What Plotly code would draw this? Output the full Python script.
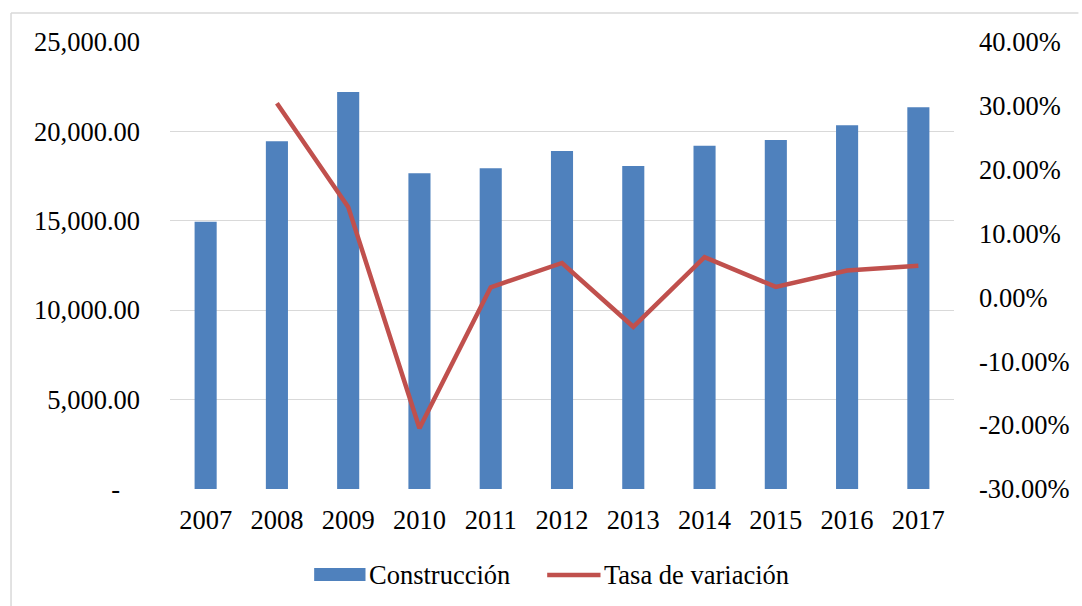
import plotly.graph_objects as go

years = ["2007", "2008", "2009", "2010", "2011", "2012", "2013", "2014", "2015", "2016", "2017"]
construccion = [14950, 19446, 22204, 17656, 17935, 18904, 18065, 19202, 19519, 20340, 21347]
tasa_years = ["2008", "2009", "2010", "2011", "2012", "2013", "2014", "2015", "2016", "2017"]
tasa = [0.3040, 0.1418, -0.2048, 0.0158, 0.0540, -0.0460, 0.0629, 0.0165, 0.0421, 0.0495]

left_ticks = [0, 5000, 10000, 15000, 20000, 25000]
left_text = ["-\u00a0\u00a0\u00a0", "5,000.00", "10,000.00", "15,000.00", "20,000.00", "25,000.00"]
right_ticks = [-0.3, -0.2, -0.1, 0.0, 0.1, 0.2, 0.3, 0.4]
right_text = ["-30.00%", "-20.00%", "-10.00%", "0.00%", "10.00%", "20.00%", "30.00%", "40.00%"]

BLUE = "#4f81bd"
RED = "#c0504d"
GRID = "#d9d9d9"
FONT = "Liberation Serif"
FS = 26.5
LFS = 26.5

W, H = 1082, 606
L, R, T, B = 170, 964, 42, 489


def px(x):
    return (x - L) / (R - L)


def py(y):
    return (B - y) / (B - T)


fig = go.Figure()
fig.add_trace(go.Bar(x=years, y=construccion, name="Construcción", marker_color=BLUE,
                     marker_line_width=0, yaxis="y"))
fig.add_trace(go.Scatter(x=tasa_years, y=tasa, name="Tasa de variación", mode="lines",
                         line=dict(color=RED, width=4.5), yaxis="y2"))

shapes = [
    # outer chart border (cropped at right and bottom)
    dict(type="line", xref="paper", yref="paper", x0=px(9), x1=px(1090), y0=py(13), y1=py(13),
         line=dict(color=GRID, width=1.5)),
    dict(type="line", xref="paper", yref="paper", x0=px(9), x1=px(9), y0=py(13), y1=py(620),
         line=dict(color=GRID, width=1.5)),
    # legend symbols
    dict(type="rect", xref="paper", yref="paper", x0=px(316), x1=px(368), y0=py(581), y1=py(568),
         fillcolor=BLUE, line=dict(width=0)),
    dict(type="line", xref="paper", yref="paper", x0=px(552), x1=px(606), y0=py(575), y1=py(575),
         line=dict(color=RED, width=4.5)),
]
annotations = [
    dict(xref="paper", yref="paper", x=px(370), y=py(575), text="Construcción", showarrow=False,
         xanchor="left", yanchor="middle", font=dict(family=FONT, size=LFS, color="#000")),
    dict(xref="paper", yref="paper", x=px(608), y=py(575), text="Tasa de variación", showarrow=False,
         xanchor="left", yanchor="middle", font=dict(family=FONT, size=LFS, color="#000")),
]

fig.update_layout(
    width=W, height=H,
    margin=dict(l=L, r=W - R, t=T, b=H - B, pad=0),
    paper_bgcolor="white", plot_bgcolor="white",
    showlegend=False,
    bargap=0.69,
    font=dict(family=FONT, size=FS, color="#000"),
    xaxis=dict(type="category", showgrid=False, showline=False, zeroline=False,
               ticks="", ticklabelstandoff=12,
               tickfont=dict(family=FONT, size=FS, color="#000")),
    yaxis=dict(range=[0, 25000], tickvals=left_ticks, ticktext=left_text,
               showgrid=True, gridcolor=GRID, gridwidth=1.3, zeroline=False, showline=False,
               ticks="", ticklabelstandoff=29,
               tickfont=dict(family=FONT, size=FS, color="#000")),
    yaxis2=dict(range=[-0.3, 0.4], tickvals=right_ticks, ticktext=right_text,
                overlaying="y", side="right", showgrid=False, zeroline=False, showline=False,
                ticks="", ticklabelstandoff=24,
                tickfont=dict(family=FONT, size=FS, color="#000")),
    shapes=shapes,
    annotations=annotations,
)

fig.write_html("out.html", config={"displayModeBar": False},
               post_script="document.body.style.margin='0';document.body.style.overflow='hidden';")
